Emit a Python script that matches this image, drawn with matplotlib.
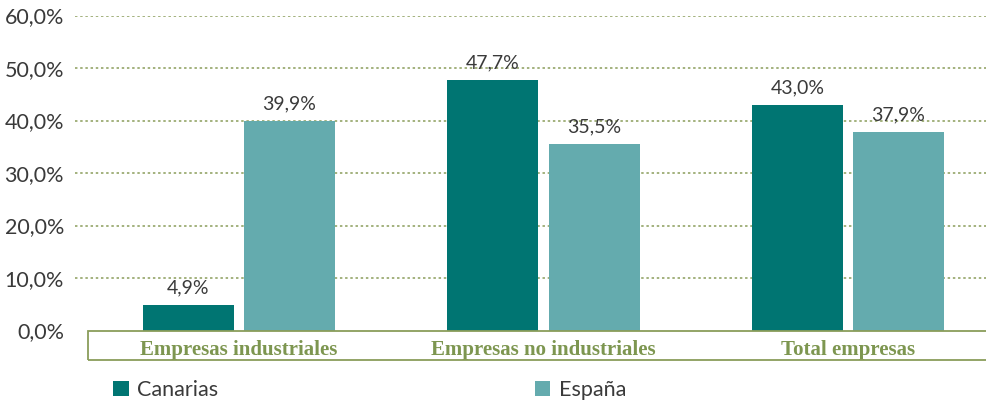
import matplotlib
matplotlib.use("Agg")
import matplotlib.pyplot as plt
from matplotlib.patches import Rectangle
import numpy as np

categories = ["Empresas industriales", "Empresas no industriales", "Total empresas"]
series_names = ["Canarias", "España"]
canarias = [4.9, 47.7, 43.0]
espana = [39.9, 35.5, 37.9]
yticks = [0, 10, 20, 30, 40, 50, 60]

C_DARK = "#007572"
C_LIGHT = "#64abae"
OLIVE = "#8a9d5a"
TXT_OLIVE = "#7d9650"
TXT = "#3a3a3a"
SANS = ["Lato", "DejaVu Sans"]

W, H = 987, 405
fig = plt.figure(figsize=(W / 100, H / 100), dpi=100)
ax = fig.add_axes([75 / W, (H - 330.5) / H, 1 - 75 / W, 315 / H])

x = np.arange(len(categories))
bw = 91 / 304.5
gap = 10 / 304.5
b1 = ax.bar(x - (bw + gap) / 2, canarias, width=bw, color=C_DARK, label=series_names[0], zorder=3)
b2 = ax.bar(x + (bw + gap) / 2, espana, width=bw, color=C_LIGHT, label=series_names[1], zorder=3)

ax.set_xlim(-(239 - 75) / 304.5, 2 + (987 - 848) / 304.5)
ax.set_ylim(0, 60)

for bars, vals in ((b1, canarias), (b2, espana)):
    for r, v in zip(bars, vals):
        ax.annotate(f"{v:.1f}%".replace(".", ","),
                    (r.get_x() + r.get_width() / 2, v),
                    xytext=(0, 6), textcoords="offset points",
                    ha="center", va="bottom", fontsize=14,
                    family=SANS, color=TXT, zorder=4)

# gridlines
for t in yticks[1:]:
    ax.axhline(t, color=OLIVE, lw=1.1, linestyle=(0, (1.6, 1.8)), zorder=1)

ax.set_yticks(yticks)
ax.set_yticklabels([f"{t:.1f}%".replace(".", ",") for t in yticks],
                   fontsize=15.5, color=TXT, family=SANS)
ax.tick_params(axis="y", length=0, pad=8)
ax.set_xticks([])
for s in ax.spines.values():
    s.set_visible(False)

# category box below axis
trans = ax.get_xaxis_transform()
box_bottom = -(360 - 330.5) / 315
rect = Rectangle((-0.495, box_bottom), 3.5, -box_bottom, transform=trans,
                 fill=False, edgecolor=OLIVE, lw=1.3, clip_on=False, zorder=5)
ax.add_patch(rect)
for xi, c in zip(x, categories):
    ax.text(xi, -(355 - 330.5) / 315, c, transform=trans, ha="center", va="baseline",
            fontsize=15, fontweight="bold", color=TXT_OLIVE,
            family=["Liberation Serif", "DejaVu Serif"])

# legend
common = dict(frameon=False, handlelength=0.72, handleheight=0.72,
              handletextpad=0.4, borderpad=0, borderaxespad=0,
              prop={"family": SANS, "size": 15.5})
l1 = fig.legend(handles=[b1], loc="center left", bbox_to_anchor=(113 / W, (H - 390) / H), **common)
for t in l1.get_texts():
    t.set_color(TXT)
l2 = fig.legend(handles=[b2], loc="center left", bbox_to_anchor=(535 / W, (H - 390) / H), **common)
for t in l2.get_texts():
    t.set_color(TXT)

fig.savefig("out.png", dpi=100)
